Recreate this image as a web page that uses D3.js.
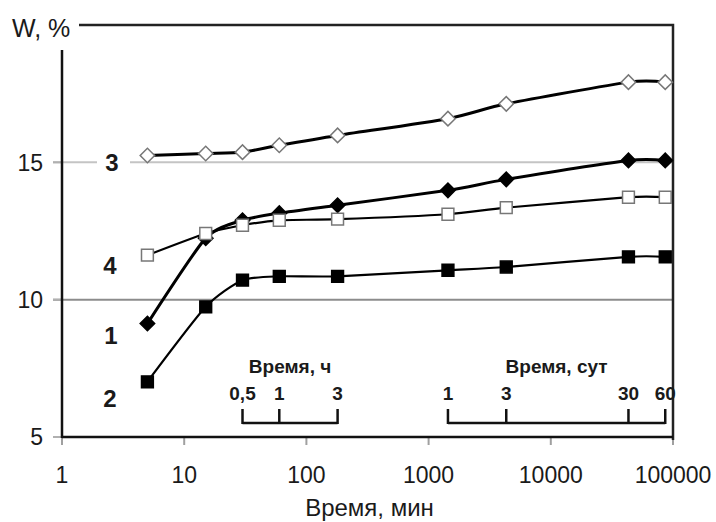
<!DOCTYPE html>
<html>
<head>
<meta charset="utf-8">
<script src="https://cdn.jsdelivr.net/npm/d3@7"></script>
<style>
  body { margin: 0; background: #fff; }
  svg text { font-family: "Liberation Sans", Arial, sans-serif; fill: #1a1a1a; }
</style>
</head>
<body>
<div id="chart"></div>
<script>
// time of measurement, minutes
var timeMin = [5, 15, 30, 60, 180, 1440, 4320, 43200, 86400];

// W, % for each curve
var curve1 = [9.13, 12.24, 12.89, 13.15, 13.44, 13.98, 14.38, 15.07, 15.07];
var curve2 = [7.01, 9.74, 10.71, 10.85, 10.85, 11.07, 11.19, 11.56, 11.56];
var curve3 = [15.25, 15.32, 15.37, 15.62, 15.98, 16.59, 17.13, 17.92, 17.92];
var curve4 = [11.62, 12.41, 12.71, 12.89, 12.93, 13.11, 13.35, 13.73, 13.73];

var xTicks = [1, 10, 100, 1000, 10000, 100000];
var yTicks = [5, 10, 15];
var yGrid = [10, 15];

// secondary scales drawn inside the plot
var hourTicks = [0.5, 1, 3];
var hourLabels = ["0,5", "1", "3"];
var dayTicks = [1, 3, 30, 60];
var dayLabels = ["1", "3", "30", "60"];

var width = 716, height = 522;
var plotL = 62, plotR = 673, plotT = 25, plotB = 437;

var svg = d3.select("#chart").append("svg")
  .attr("width", width)
  .attr("height", height);

var x = d3.scaleLog().domain([1, 100000]).range([plotL, plotR]);
var y = d3.scaleLinear().domain([5, 20]).range([plotB, plotT]);

// gridlines
svg.append("g")
  .selectAll("line")
  .data(yGrid)
  .enter().append("line")
  .attr("x1", plotL - 9)
  .attr("x2", plotR)
  .attr("y1", d => y(d))
  .attr("y2", d => y(d))
  .attr("stroke", d => d == 10 ? "#8c8c8c" : "#c4c4c4")
  .attr("stroke-width", 2);

// y ticks
svg.append("g")
  .selectAll("line")
  .data(yTicks)
  .enter().append("line")
  .attr("x1", plotL - 9)
  .attr("x2", plotL)
  .attr("y1", d => y(d))
  .attr("y2", d => y(d))
  .attr("stroke", "#b0b0b0")
  .attr("stroke-width", 2);

svg.append("g")
  .selectAll("text")
  .data(yTicks)
  .enter().append("text")
  .attr("x", 43)
  .attr("y", d => y(d))
  .attr("dy", "0.36em")
  .attr("text-anchor", "end")
  .attr("font-size", 23)
  .text(d => d);

// x ticks
svg.append("g")
  .selectAll("line")
  .data(xTicks)
  .enter().append("line")
  .attr("x1", d => x(d))
  .attr("x2", d => x(d))
  .attr("y1", plotB)
  .attr("y2", plotB + 8)
  .attr("stroke", "#a0a0a0")
  .attr("stroke-width", 2);

svg.append("g")
  .selectAll("text")
  .data(xTicks)
  .enter().append("text")
  .attr("x", d => x(d))
  .attr("y", 483)
  .attr("text-anchor", "middle")
  .attr("font-size", 23)
  .text(d => d);

// frame and axes
svg.append("path")
  .attr("d", "M" + plotL + "," + plotT + "H" + plotR + "V" + (plotB + 3))
  .attr("fill", "none")
  .attr("stroke", "#222")
  .attr("stroke-width", 2.5);
svg.append("line")
  .attr("x1", plotL).attr("x2", plotL)
  .attr("y1", plotT).attr("y2", plotB + 1)
  .attr("stroke", "#111").attr("stroke-width", 2.5);
svg.append("line")
  .attr("x1", plotL).attr("x2", plotR)
  .attr("y1", plotB).attr("y2", plotB)
  .attr("stroke", "#111").attr("stroke-width", 2.5);

// axis titles
svg.append("rect")
  .attr("x", 0).attr("y", 0)
  .attr("width", 79).attr("height", 50)
  .attr("fill", "#fff");
svg.append("text")
  .attr("x", 12).attr("y", 37)
  .attr("font-size", 25)
  .text("W, %");
svg.append("text")
  .attr("x", (plotL + plotR) / 2 + 2).attr("y", 516)
  .attr("text-anchor", "middle")
  .attr("font-size", 24)
  .text("Время, мин");

// curves
var line = d3.line()
  .x(d => x(d[0]))
  .y(d => y(d[1]))
  .curve(d3.curveCardinal.tension(0.35));

var series = [
  { name: "3", values: curve3, shape: "diamond", fill: "#fff", lw: 3 },
  { name: "1", values: curve1, shape: "diamond", fill: "#000", lw: 3 },
  { name: "2", values: curve2, shape: "square", fill: "#000", lw: 2.2 },
  { name: "4", values: curve4, shape: "square", fill: "#fff", lw: 2.2 }
];

series.forEach(function (s) {
  var pts = timeMin.map((t, i) => [t, s.values[i]]);
  var g = svg.append("g");
  g.append("path")
    .datum(pts)
    .attr("d", line)
    .attr("fill", "none")
    .attr("stroke", "#000")
    .attr("stroke-width", s.lw);
  var sym = s.shape == "diamond"
    ? d3.symbol().type(d3.symbolSquare).size(105)
    : d3.symbol().type(d3.symbolSquare).size(140);
  g.selectAll("path.m")
    .data(pts)
    .enter().append("path")
    .attr("class", "m")
    .attr("d", sym)
    .attr("transform", d => "translate(" + x(d[0]) + "," + y(d[1]) + ")" + (s.shape == "diamond" ? " rotate(45)" : ""))
    .attr("fill", s.fill)
    .attr("stroke", s.fill == "#fff" ? "#777" : "#000")
    .attr("stroke-width", 1.5);
});

// curve numbers
var curveLabels = [
  { text: "3", x: 112, y: 162, box: true },
  { text: "4", x: 110, y: 265 },
  { text: "1", x: 111, y: 335 },
  { text: "2", x: 110, y: 398 }
];
curveLabels.forEach(function (c) {
  if (c.box) {
    svg.append("rect")
      .attr("x", c.x - 15).attr("y", c.y - 4)
      .attr("width", 33).attr("height", 8)
      .attr("fill", "#fff");
  }
  svg.append("text")
    .attr("x", c.x).attr("y", c.y)
    .attr("dy", "0.36em")
    .attr("text-anchor", "middle")
    .attr("font-size", 24)
    .attr("font-weight", "bold")
    .text(c.text);
});

// secondary bracket scales: hours and days
function bracket(ticks, labels, factor, title) {
  var xs = ticks.map(d => x(d * factor));
  var lineY = 423, tickTop = 409;
  var g = svg.append("g");
  g.append("line")
    .attr("x1", xs[0]).attr("x2", xs[xs.length - 1])
    .attr("y1", lineY).attr("y2", lineY)
    .attr("stroke", "#111").attr("stroke-width", 2.5);
  g.selectAll("line.t")
    .data(xs)
    .enter().append("line")
    .attr("class", "t")
    .attr("x1", d => d).attr("x2", d => d)
    .attr("y1", tickTop).attr("y2", lineY + 1)
    .attr("stroke", "#111").attr("stroke-width", 2.5);
  g.selectAll("text.l")
    .data(labels)
    .enter().append("text")
    .attr("class", "l")
    .attr("x", (d, i) => xs[i])
    .attr("y", 400)
    .attr("text-anchor", "middle")
    .attr("font-size", 19)
    .attr("font-weight", "bold")
    .text(d => d);
  g.append("text")
    .attr("x", (xs[0] + xs[xs.length - 1]) / 2)
    .attr("y", 373)
    .attr("text-anchor", "middle")
    .attr("font-size", 19)
    .attr("font-weight", "bold")
    .text(title);
}
bracket(hourTicks, hourLabels, 60, "Время, ч");
bracket(dayTicks, dayLabels, 1440, "Время, сут");
</script>
</body>
</html>
